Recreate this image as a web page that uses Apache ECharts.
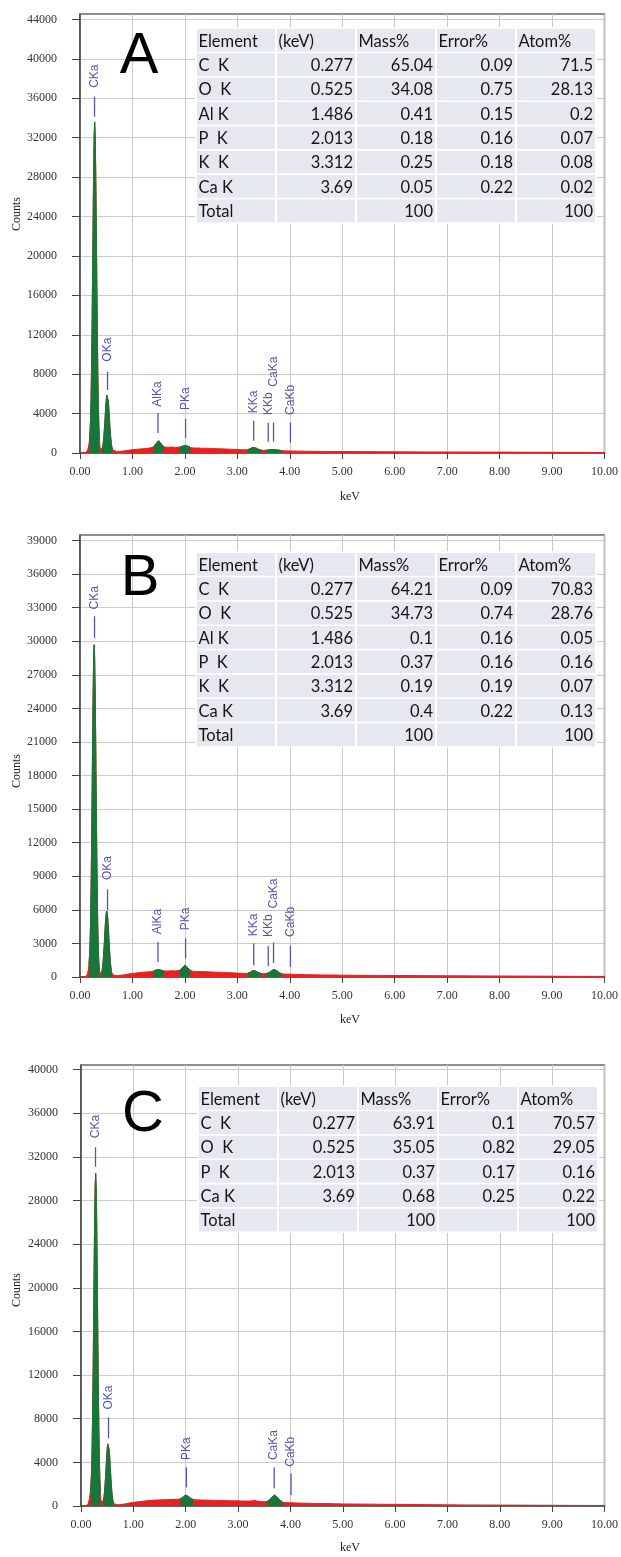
<!DOCTYPE html>
<html><head><meta charset="utf-8">
<script src="https://cdn.jsdelivr.net/npm/echarts@6/dist/echarts.min.js"></script>
<style>html,body{margin:0;padding:0;background:#fff}#c{width:621px;height:1557px}</style>
</head><body><div id="c"></div>
<script>
// ---------- DATA ----------
const energy = [
0, 0.05, 0.1, 0.12, 0.14,
0.16, 0.17, 0.18, 0.19, 0.2, 0.21, 0.22, 0.23, 0.24, 0.25, 0.26, 0.27, 0.28, 0.29, 0.3, 0.31, 0.32, 0.33, 0.34, 0.35, 0.36, 0.37, 0.38, 0.39, 0.4, 0.41, 0.42, 0.43, 0.44, 0.45, 0.46, 0.47, 0.48, 0.49, 0.5, 0.51, 0.52, 0.53, 0.54, 0.55, 0.56, 0.57, 0.58, 0.59, 0.6, 0.61, 0.62, 0.63, 0.64,
0.65, 0.7, 0.75, 0.8, 0.85, 0.9, 0.95, 1,
1.05, 1.1, 1.15, 1.2, 1.25, 1.3, 1.35, 1.4, 1.45, 1.5,
1.55, 1.6, 1.65, 1.7, 1.75, 1.8, 1.85, 1.9, 1.95, 2,
2.05, 2.1, 2.15, 2.2, 2.25, 2.3, 2.35, 2.4, 2.45, 2.5,
2.55, 2.6, 2.65, 2.7, 2.75, 2.8, 2.85, 2.9, 2.95, 3,
3.05, 3.1, 3.15, 3.2, 3.25, 3.3, 3.35, 3.4, 3.45, 3.5,
3.55, 3.6, 3.65, 3.7, 3.75, 3.8, 3.85, 3.9, 3.95, 4,
4.05, 4.1, 4.15, 4.2, 4.25, 4.3, 4.35, 4.4, 4.45, 4.5,
4.6, 4.7, 4.8, 4.9, 5,
5.25, 5.5, 5.75, 6, 6.25, 6.5, 6.75, 7, 7.25, 7.5, 7.75, 8, 8.25, 8.5, 8.75, 9, 9.25, 9.5, 9.75, 10
];

const countsA = [
0, 0, 0, 40, 250,
600, 900, 1300, 2100, 3300, 5400, 8600, 13000, 18300, 23900, 28900, 32300, 33600, 32200, 28600, 23500, 17900, 12600, 8200, 4900, 2700, 1400, 700, 350, 200, 160, 300, 580, 900, 1400, 2050, 2850, 3740, 4620, 5380, 5880, 6080, 5820, 5300, 4520, 3620, 2730, 1930, 1380, 860, 560, 340, 230, 190,
170, 160, 170, 190, 220, 260, 300, 340,
360, 390, 410, 430, 450, 480, 530, 620, 950, 1250,
900, 640, 580, 590, 600, 580, 580, 600, 680, 760,
700, 580, 520, 500, 510, 490, 480, 490, 470, 460,
450, 440, 430, 420, 410, 400, 390, 380, 370, 360,
340, 330, 320, 340, 450, 570, 520, 380, 300, 270,
280, 320, 330, 340, 320, 280, 240, 220, 210, 210,
200, 200, 190, 190, 185, 180, 180, 175, 170, 170,
165, 160, 155, 150, 150,
140, 135, 130, 120, 115, 110, 105, 100, 100, 95, 95, 90, 85, 80, 75, 70, 65, 60, 55, 50
];

const countsB = [
0, 0, 0, 40, 250,
650, 1100, 1800, 2900, 4700, 7600, 11400, 16100, 21000, 25500, 28600, 29700, 28500, 25400, 20900, 15900, 11200, 7300, 4400, 2450, 1250, 620, 300, 180, 150, 350, 560, 880, 1350, 1990, 2760, 3620, 4480, 5220, 5720, 5900, 5700, 5200, 4440, 3580, 2700, 1930, 1300, 830, 510, 330, 220, 170, 150,
140, 140, 150, 170, 200, 240, 280, 320,
340, 370, 400, 420, 440, 460, 480, 520, 620, 660,
600, 540, 530, 540, 560, 540, 550, 600, 800, 1050,
850, 600, 520, 500, 500, 490, 480, 480, 460, 450,
440, 430, 420, 410, 400, 390, 380, 370, 360, 350,
340, 330, 320, 340, 440, 580, 530, 400, 320, 300,
310, 380, 560, 680, 560, 380, 290, 260, 250, 260,
240, 230, 225, 220, 215, 210, 205, 200, 195, 190,
185, 180, 175, 170, 165,
155, 150, 140, 135, 130, 120, 115, 110, 105, 100, 95, 90, 85, 80, 75, 70, 65, 60, 55, 50
];

const countsC = [
0, 0, 0, 40, 250,
650, 1000, 1400, 2000, 3000, 4900, 7900, 11800, 16600, 21600, 26200, 29300, 30500, 29300, 26100, 21400, 16300, 11500, 7500, 4500, 2500, 1300, 640, 320, 200, 170, 330, 560, 880, 1350, 1990, 2760, 3620, 4480, 5220, 5700, 5850, 5650, 5150, 4400, 3550, 2680, 1900, 1280, 820, 500, 320, 210, 160,
120, 110, 130, 160, 200, 250, 290, 330,
360, 390, 420, 450, 470, 500, 520, 540, 550, 560,
570, 580, 590, 600, 610, 610, 620, 660, 820, 1000,
880, 680, 590, 570, 560, 550, 545, 540, 530, 520,
515, 510, 505, 500, 495, 490, 485, 480, 475, 470,
465, 460, 455, 450, 460, 520, 470, 430, 410, 400,
420, 560, 820, 1000, 800, 520, 360, 320, 300, 300,
290, 280, 270, 265, 260, 255, 250, 245, 240, 235,
230, 220, 210, 200, 190,
180, 170, 160, 150, 140, 130, 120, 110, 100, 95, 90, 85, 80, 75, 70, 65, 60, 55, 50, 50
];

// peak (ROI) windows drawn in green, keV
const peakWindowsA = [[0.18, 0.37], [0.42, 0.62], [1.40, 1.60], [1.90, 2.10], [3.20, 3.45], [3.55, 3.85]];
const peakWindowsB = [[0.17, 0.37], [0.41, 0.61], [1.40, 1.60], [1.90, 2.10], [3.20, 3.45], [3.55, 3.85]];
const peakWindowsC = [[0.18, 0.37], [0.42, 0.62], [1.90, 2.15], [3.55, 3.85]];

// peak markers
const peakNamesA = ['CKa', 'OKa', 'AlKa', 'PKa', 'KKa', 'KKb', 'CaKa', 'CaKb'];
const peakEnergyA = [0.277, 0.525, 1.486, 2.013, 3.312, 3.589, 3.690, 4.012];
const markLowA = [34140, 6400, 2030, 1520, 1250, 1150, 1150, 1050];
const markHighA = [36170, 8250, 4060, 3450, 3280, 3080, 3080, 3080];
const markTextA = [37060, 9270, 4700, 4370, 4030, 3860, 6730, 3860];

const peakNamesB = ['CKa', 'OKa', 'AlKa', 'PKa', 'KKa', 'KKb', 'CaKa', 'CaKb'];
const peakEnergyB = [0.277, 0.525, 1.486, 2.013, 3.312, 3.589, 3.690, 4.012];
const markLowB = [30300, 5970, 1340, 1650, 1050, 960, 1250, 900];
const markHighB = [32240, 7830, 3130, 3440, 2990, 2780, 3080, 2780];
const markTextB = [32840, 8660, 3820, 4180, 3640, 3580, 6120, 3580];

const peakNamesC = ['CKa', 'OKa', 'PKa', 'CaKa', 'CaKb'];
const peakEnergyC = [0.277, 0.525, 2.013, 3.690, 4.012];
const markLowC = [31110, 6190, 1700, 1620, 1010];
const markHighC = [32890, 8120, 3540, 3540, 2990];
const markTextC = [33720, 8850, 4210, 4210, 3600];

// axis ticks
const xTicks = [0, 1, 2, 3, 4, 5, 6, 7, 8, 9, 10];
const yTicksA = [0, 4000, 8000, 12000, 16000, 20000, 24000, 28000, 32000, 36000, 40000, 44000];
const yTicksB = [0, 3000, 6000, 9000, 12000, 15000, 18000, 21000, 24000, 27000, 30000, 33000, 36000, 39000];
const yTicksC = [0, 4000, 8000, 12000, 16000, 20000, 24000, 28000, 32000, 36000, 40000];

// quantification tables
const tableHeader = ['Element', '(keV)', 'Mass%', 'Error%', 'Atom%'];
const tableA = [
  ['C  K', '0.277', '65.04', '0.09', '71.5'],
  ['O  K', '0.525', '34.08', '0.75', '28.13'],
  ['Al K', '1.486', '0.41', '0.15', '0.2'],
  ['P  K', '2.013', '0.18', '0.16', '0.07'],
  ['K  K', '3.312', '0.25', '0.18', '0.08'],
  ['Ca K', '3.69', '0.05', '0.22', '0.02'],
  ['Total', '', '100', '', '100']
];
const tableB = [
  ['C  K', '0.277', '64.21', '0.09', '70.83'],
  ['O  K', '0.525', '34.73', '0.74', '28.76'],
  ['Al K', '1.486', '0.1', '0.16', '0.05'],
  ['P  K', '2.013', '0.37', '0.16', '0.16'],
  ['K  K', '3.312', '0.19', '0.19', '0.07'],
  ['Ca K', '3.69', '0.4', '0.22', '0.13'],
  ['Total', '', '100', '', '100']
];
const tableC = [
  ['C  K', '0.277', '63.91', '0.1', '70.57'],
  ['O  K', '0.525', '35.05', '0.82', '29.05'],
  ['P  K', '2.013', '0.37', '0.17', '0.16'],
  ['Ca K', '3.69', '0.68', '0.25', '0.22'],
  ['Total', '', '100', '', '100']
];

// ---------- LAYOUT / STYLE ----------
const RED = '#e8201e', GREEN = '#17773a', MARK = '#5454b0';
const SERIF = '"Liberation Serif", "Times New Roman", serif';
const SANS = '"Liberation Sans", Arial, sans-serif';
const TOPZ = 100;

const panels = [
  { grid: {left: 80, top: 14, width: 527, height: 439}, yMax: 44550, yInt: 4000, yTicks: yTicksA,
    counts: countsA, windows: peakWindowsA,
    marks: {names: peakNamesA, e: peakEnergyA, lo: markLowA, hi: markHighA, t: markTextA},
    table: tableA, tablePos: [197, 29], letter: 'A', letterPos: [139, 57],
    countsPos: [17, 214], kevPos: [350, 497] },
  { grid: {left: 80, top: 535, width: 527, height: 442}, yMax: 39500, yInt: 3000, yTicks: yTicksB,
    counts: countsB, windows: peakWindowsB,
    marks: {names: peakNamesB, e: peakEnergyB, lo: markLowB, hi: markHighB, t: markTextB},
    table: tableB, tablePos: [197, 553], letter: 'B', letterPos: [140, 579],
    countsPos: [17, 771], kevPos: [350, 1020] },
  { grid: {left: 81, top: 1065, width: 527, height: 441}, yMax: 40430, yInt: 4000, yTicks: yTicksC,
    counts: countsC, windows: peakWindowsC,
    marks: {names: peakNamesC, e: peakEnergyC, lo: markLowC, hi: markHighC, t: markTextC},
    table: tableC, tablePos: [199, 1087], letter: 'C', letterPos: [143, 1115],
    countsPos: [17, 1290], kevPos: [350, 1548] }
];

function inWindows(e, wins) {
  return wins.some(w => e >= w[0] - 1e-9 && e <= w[1] + 1e-9);
}

function tableElements(x0, y0, header, rows) {
  const all = [header].concat(rows);
  const colW = 80, cellW = 78, rowH = 24.35, cellH = 22.7;
  const els = [{type: 'rect', z: TOPZ, shape: {x: x0 - 2, y: y0 - 2, width: colW * 5 + 2, height: rowH * all.length + 2}, style: {fill: '#ffffff'}}];
  all.forEach((row, r) => row.forEach((txt, c) => {
    els.push({type: 'rect', z: TOPZ + 1, shape: {x: x0 + c * colW, y: y0 + r * rowH, width: cellW, height: cellH}, style: {fill: '#e5e8ee'}});
    if (txt) {
      const right = r > 0 && c > 0;
      els.push({type: 'text', z: TOPZ + 2, x: x0 + (right ? c * colW + cellW - 2 : c * colW + 1.5), y: y0 + r * rowH + cellH / 2 + 1,
        style: {text: txt, font: '16.5px Lato, "Open Sans", sans-serif', fill: '#151515',
          align: right ? 'right' : 'left', textAlign: right ? 'right' : 'left',
          verticalAlign: 'middle', textVerticalAlign: 'middle'}});
    }
  }));
  return els;
}

const option = {
  backgroundColor: '#ffffff',
  animation: false,
  grid: [], xAxis: [], yAxis: [], series: [],
  graphic: {z: TOPZ, elements: []}
};

panels.forEach((p, i) => {
  option.grid.push(Object.assign({show: true, borderColor: '#6a6a6a', borderWidth: 1.5, backgroundColor: '#fff'}, p.grid));
  option.xAxis.push({
    type: 'value', gridIndex: i, min: 0, max: 10, interval: 1,
    axisLine: {show: true, onZero: false, lineStyle: {color: '#444', width: 1.5}},
    axisTick: {show: true, length: 6, lineStyle: {color: '#444'}},
    axisLabel: {margin: 13, fontFamily: SERIF, fontSize: 12, color: '#333', formatter: v => v.toFixed(2)},
    splitLine: {show: true, lineStyle: {color: '#cacaca', width: 1}}
  });
  option.yAxis.push({
    type: 'value', gridIndex: i, min: 0, max: p.yMax, interval: p.yInt,
    axisLine: {show: true, lineStyle: {color: '#444', width: 1.5}},
    axisTick: {show: true, length: 8, lineStyle: {color: '#444'}, customValues: p.yTicks},
    axisLabel: {margin: 23, fontFamily: SERIF, fontSize: 12, color: '#333', customValues: p.yTicks, formatter: v => String(v)},
    splitLine: {show: true, lineStyle: {color: '#cacaca', width: 1}}
  });
  const full = energy.map((e, k) => [e, p.counts[k]]);
  const peaks = energy.map((e, k) => inWindows(e, p.windows) ? [e, p.counts[k]] : [e, '-']);
  option.series.push({
    type: 'line', xAxisIndex: i, yAxisIndex: i, data: full, symbol: 'none', z: 2,
    lineStyle: {color: RED, width: 1}, areaStyle: {color: RED, opacity: 1}, silent: true
  });
  option.series.push({
    type: 'line', xAxisIndex: i, yAxisIndex: i, data: peaks, symbol: 'none', z: 3, connectNulls: false,
    lineStyle: {color: GREEN, width: 1}, areaStyle: {color: GREEN, opacity: 1}, silent: true
  });
  const m = p.marks;
  const markData = m.e.map((e, k) => [e, m.lo[k], m.hi[k], m.t[k]]);
  option.series.push({
    type: 'custom', xAxisIndex: i, yAxisIndex: i, z: 5, silent: true,
    encode: {x: 0, y: [1, 2, 3]}, data: markData,
    renderItem: (params, api) => {
      const e = api.value(0);
      const a = api.coord([e, api.value(1)]), b = api.coord([e, api.value(2)]), t = api.coord([e, api.value(3)]);
      return {type: 'group', children: [
        {type: 'line', shape: {x1: a[0], y1: a[1], x2: b[0], y2: b[1]}, style: {stroke: MARK, lineWidth: 1.3}},
        {type: 'text', x: t[0], y: t[1], rotation: Math.PI / 2,
          style: {text: m.names[params.dataIndex], fill: MARK, font: '12px ' + SANS,
            align: 'left', textAlign: 'left', verticalAlign: 'middle', textVerticalAlign: 'middle'}}
      ]};
    }
  });
  option.graphic.elements.push(...tableElements(p.tablePos[0], p.tablePos[1], tableHeader, p.table));
  option.graphic.elements.push({type: 'text', x: p.letterPos[0], y: p.letterPos[1], z: TOPZ + 2,
    style: {text: p.letter, font: '58px ' + SANS, fill: '#000', align: 'center', textAlign: 'center', verticalAlign: 'middle', textVerticalAlign: 'middle'}});
  option.graphic.elements.push({type: 'text', x: p.countsPos[0], y: p.countsPos[1], rotation: Math.PI / 2, z: TOPZ,
    style: {text: 'Counts', font: '12px ' + SERIF, fill: '#222', align: 'center', textAlign: 'center', verticalAlign: 'middle', textVerticalAlign: 'middle'}});
  option.graphic.elements.push({type: 'text', x: p.kevPos[0], y: p.kevPos[1], z: TOPZ,
    style: {text: 'keV', font: '12px ' + SERIF, fill: '#222', align: 'center', textAlign: 'center', verticalAlign: 'middle', textVerticalAlign: 'middle'}});
});

const chart = echarts.init(document.getElementById('c'), null, {renderer: 'canvas', width: 621, height: 1557});
chart.setOption(option);
</script>
</body></html>
